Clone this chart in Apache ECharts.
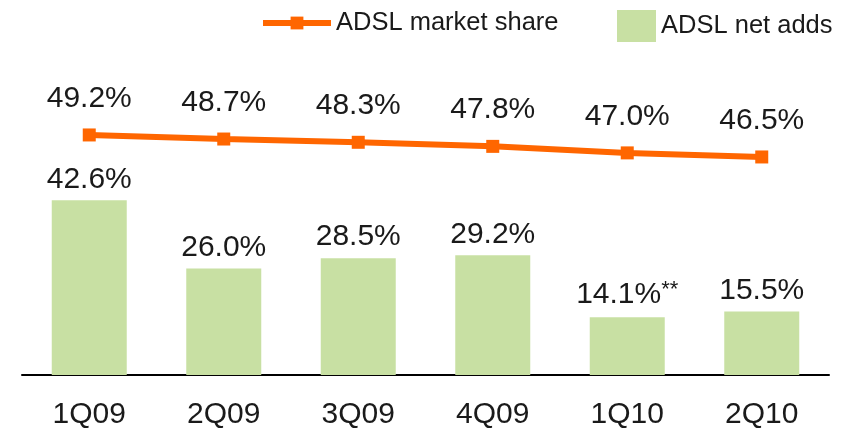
<!DOCTYPE html>
<html>
<head>
<meta charset="utf-8">
<script src="https://cdn.jsdelivr.net/npm/echarts@6/dist/echarts.min.js"></script>
<style>
  html, body { margin: 0; padding: 0; background: #fff; }
  #chart { width: 845px; height: 431px; }
</style>
</head>
<body>
<div id="chart"></div>
<script>
const quarters = ['1Q09', '2Q09', '3Q09', '4Q09', '1Q10', '2Q10'];
const marketShare = [49.2, 48.7, 48.3, 47.8, 47.0, 46.5];
const netAdds = [42.6, 26.0, 28.5, 29.2, 14.1, 15.5];
const netAddsNotes = ['', '', '', '', '**', ''];

const chart = echarts.init(document.getElementById('chart'));
const font = 'Liberation Sans';
const textColor = '#1a1a1a';

chart.setOption({
  animation: false,
  textStyle: { fontFamily: font },
  legend: [
    {
      data: ['ADSL market share'],
      left: 255, top: 5,
      itemWidth: 68, itemHeight: 16, itemGap: 12,
      lineStyle: { width: 6 },
      textStyle: { fontSize: 25.5, color: textColor, fontFamily: font }
    },
    {
      data: ['ADSL net adds'],
      left: 612, top: 5,
      itemWidth: 39, itemHeight: 32, itemGap: 9,
      icon: 'rect',
      textStyle: { fontSize: 25.5, color: textColor, fontFamily: font }
    }
  ],
  grid: { left: 22, right: 16, top: 40, bottom: 56 },
  xAxis: {
    type: 'category',
    data: quarters,
    axisLine: { lineStyle: { color: '#000', width: 2 } },
    axisTick: { show: false },
    axisLabel: { fontSize: 30, color: textColor, margin: 25, fontFamily: font }
  },
  yAxis: [
    { type: 'value', min: 0, max: 81.7, show: false },
    { type: 'value', min: 19.75, max: 60.85, show: false }
  ],
  series: [
    {
      name: 'ADSL net adds',
      type: 'bar',
      yAxisIndex: 0,
      barWidth: 75,
      itemStyle: { color: '#c8e0a3' },
      data: netAdds,
      label: {
        show: true,
        position: 'top',
        distance: 6,
        fontSize: 30,
        color: textColor,
        fontFamily: font,
        formatter: (p) => p.value.toFixed(1) + '%' + (netAddsNotes[p.dataIndex] ? '{n|' + netAddsNotes[p.dataIndex] + '}' : ''),
        rich: { n: { fontSize: 22, color: textColor, verticalAlign: 'top', padding: [0, 0, 10, 0] } }
      }
    },
    {
      name: 'ADSL market share',
      type: 'line',
      yAxisIndex: 1,
      data: marketShare,
      symbol: 'rect',
      symbolSize: 13,
      lineStyle: { color: '#ff6600', width: 6 },
      itemStyle: { color: '#ff6600' },
      label: {
        show: true,
        position: 'top',
        distance: 15,
        fontSize: 30,
        color: textColor,
        fontFamily: font,
        formatter: (p) => p.value.toFixed(1) + '%'
      }
    }
  ]
});
</script>
</body>
</html>
